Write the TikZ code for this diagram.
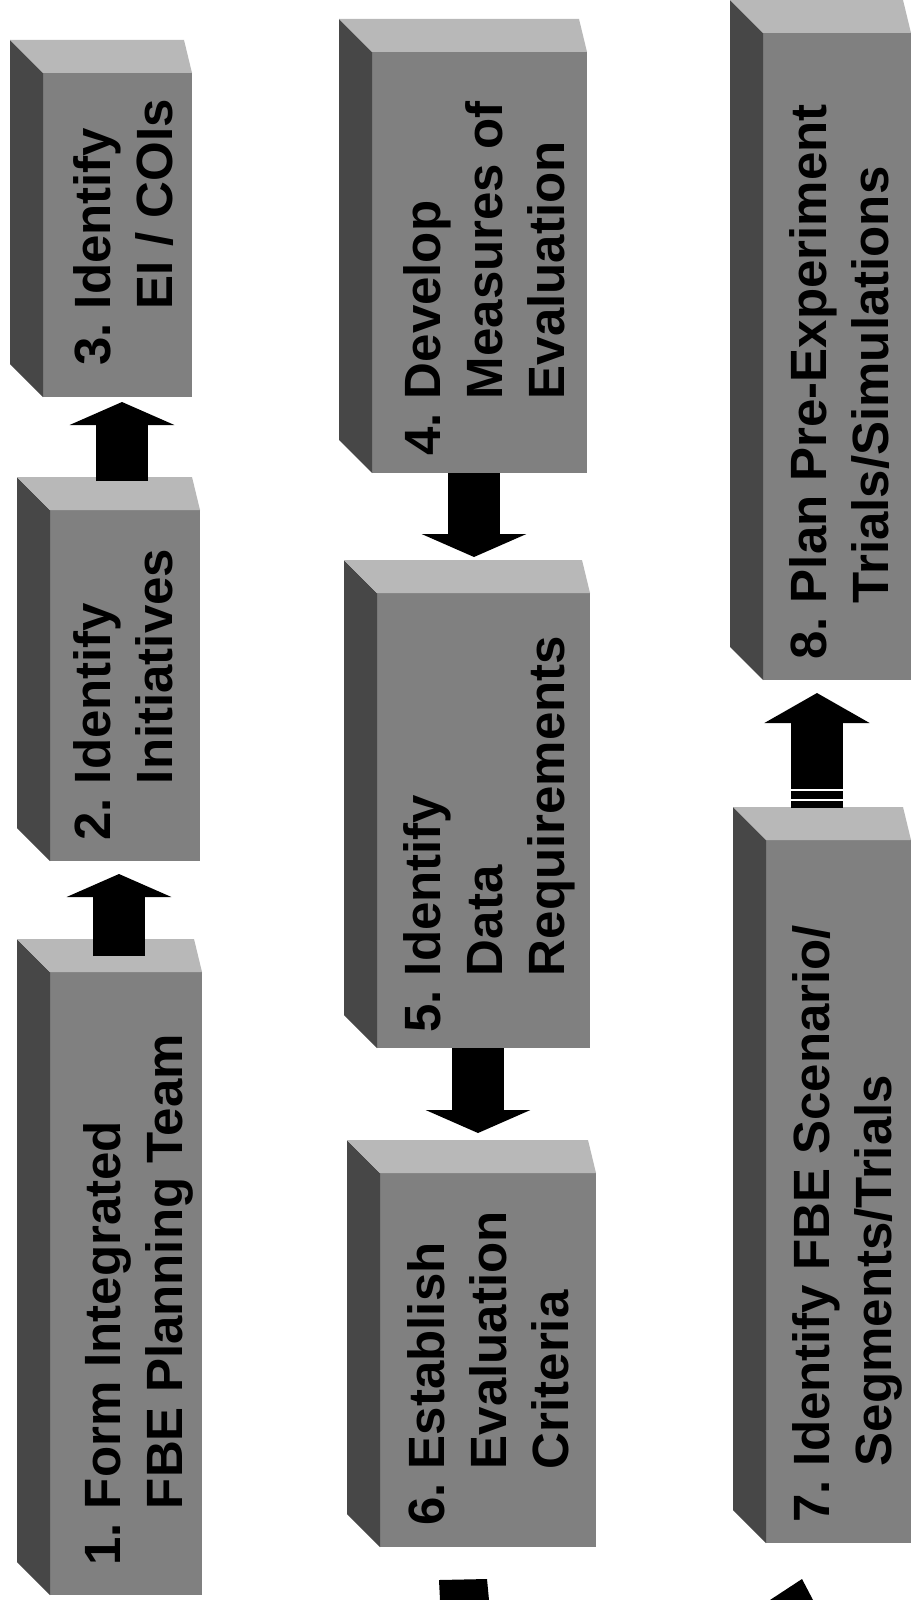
\documentclass[tikz,border=0pt]{standalone}
\usepackage{fontspec}
\setmainfont{Liberation Sans}
\usetikzlibrary{arrows.meta}

\tikzset{
  frontface/.style={fill=black!50, draw=none, inner sep=0pt, outer sep=0pt, anchor=north west},
  leftface/.style={fill=black!72},
  topface/.style={fill=black!28},
  boxtext/.style={rotate=90, anchor=north west, inner sep=0pt, align=left,
    font=\fontsize{51}{62}\selectfont\bfseries},
  blockarrow/.style={line width=52pt, -{Triangle[width=104pt,length=23pt]}},
}

\begin{document}
\begin{tikzpicture}[x=1pt,y=1pt]
\useasboundingbox (0.000000,0.000000) rectangle (916.000000,-1600.000000);
\fill[white] (0.000000,0.000000) rectangle (916.000000,-1600.000000);
% Drawing boxes
% Box 1: Form Integrated FBE Planning Team
\node[frontface, minimum width=152pt, minimum height=623pt] (b1) at (50.000000,-972.000000) {};
\fill[leftface] (b1.north west) -- +(-33,33) -- ([shift={(-33,33)}]b1.south west) -- (b1.south west) -- cycle;
\fill[topface] (b1.north west) -- +(-33,33) -- ([shift={(-8,33)}]b1.north east) -- (b1.north east) -- cycle;
\node[boxtext] (t1) at (83.000000,-1566.000000) {1.~Form Integrated\\\hphantom{1.~}FBE Planning Team};
% Box 2: Identify Initiatives
\node[frontface, minimum width=150pt, minimum height=351pt] (b2) at (50.000000,-510.000000) {};
\fill[leftface] (b2.north west) -- +(-33,33) -- ([shift={(-33,33)}]b2.south west) -- (b2.south west) -- cycle;
\fill[topface] (b2.north west) -- +(-33,33) -- ([shift={(-8,33)}]b2.north east) -- (b2.north east) -- cycle;
\node[boxtext] (t2) at (73.000000,-841.000000) {2.~Identify\\\hphantom{2.~}Initiatives};
% Box 3: Identify EI / COIs
\node[frontface, minimum width=149pt, minimum height=324pt] (b3) at (43.000000,-73.000000) {};
\fill[leftface] (b3.north west) -- +(-33,33) -- ([shift={(-33,33)}]b3.south west) -- (b3.south west) -- cycle;
\fill[topface] (b3.north west) -- +(-33,33) -- ([shift={(-8,33)}]b3.north east) -- (b3.north east) -- cycle;
\node[boxtext] (t3) at (73.000000,-366.000000) {3.~Identify\\\hphantom{3.~}EI / COIs};
% Box 4: Develop Measures of Evaluation
\node[frontface, minimum width=215pt, minimum height=421pt] (b4) at (372.000000,-52.000000) {};
\fill[leftface] (b4.north west) -- +(-33,33) -- ([shift={(-33,33)}]b4.south west) -- (b4.south west) -- cycle;
\fill[topface] (b4.north west) -- +(-33,33) -- ([shift={(-8,33)}]b4.north east) -- (b4.north east) -- cycle;
\node[boxtext] (t4) at (403.000000,-456.000000) {4.~Develop\\\hphantom{4.~}Measures of\\\hphantom{4.~}Evaluation};
% Box 5: Identify Data Requirements
\node[frontface, minimum width=213pt, minimum height=455pt] (b5) at (377.000000,-593.000000) {};
\fill[leftface] (b5.north west) -- +(-33,33) -- ([shift={(-33,33)}]b5.south west) -- (b5.south west) -- cycle;
\fill[topface] (b5.north west) -- +(-33,33) -- ([shift={(-8,33)}]b5.north east) -- (b5.north east) -- cycle;
\node[boxtext] (t5) at (403.000000,-1033.000000) {5.~Identify\\\hphantom{5.~}Data\\\hphantom{5.~}Requirements};
% Box 6: Establish Evaluation Criteria
\node[frontface, minimum width=216pt, minimum height=374pt] (b6) at (380.000000,-1173.000000) {};
\fill[leftface] (b6.north west) -- +(-33,33) -- ([shift={(-33,33)}]b6.south west) -- (b6.south west) -- cycle;
\fill[topface] (b6.north west) -- +(-33,33) -- ([shift={(-8,33)}]b6.north east) -- (b6.north east) -- cycle;
\node[boxtext] (t6) at (407.000000,-1526.000000) {6.~Establish\\\hphantom{6.~}Evaluation\\\hphantom{6.~}Criteria};
% Box 7: Identify FBE Scenario/Segments/Trials
\node[frontface, minimum width=145pt, minimum height=703pt] (b7) at (766.000000,-840.000000) {};
\fill[leftface] (b7.north west) -- +(-33,33) -- ([shift={(-33,33)}]b7.south west) -- (b7.south west) -- cycle;
\fill[topface] (b7.north west) -- +(-33,33) -- ([shift={(-8,33)}]b7.north east) -- (b7.north east) -- cycle;
\node[boxtext] (t7) at (792.000000,-1523.000000) {7.~Identify FBE Scenario/\\\hphantom{7.~}Segments/Trials};
% Box 8: Plan Pre-Experiment Trials/Simulations
\node[frontface, minimum width=148pt, minimum height=647pt] (b8) at (763.000000,-33.000000) {};
\fill[leftface] (b8.north west) -- +(-33,33) -- ([shift={(-33,33)}]b8.south west) -- (b8.south west) -- cycle;
\fill[topface] (b8.north west) -- +(-33,33) -- ([shift={(-8,33)}]b8.north east) -- (b8.north east) -- cycle;
\node[boxtext] (t8) at (789.000000,-660.000000) {8.~Plan Pre-Experiment\\\hphantom{8.~}Trials/Simulations};
% Done with boxes; drawing arrows
\draw[blockarrow] ([shift={(-7,16)}]b1.north) -- ([shift={(-6,-13)}]b2.south);
\draw[blockarrow] ([shift={(-3,29)}]b2.north) -- ([shift={(4.5,-5)}]b3.south);
\draw[blockarrow] ([shift={(-5.5,0)}]b4.south) -- ([shift={(-9.5,36)}]b5.north);
\draw[blockarrow] ([shift={(-5.5,0)}]b5.south) -- ([shift={(-10,40)}]b6.north);
\draw[blockarrow, -{Triangle[width=104pt,length=30pt]}] ([shift={(-21.5,32)}]b7.north) -- ([shift={(-20,-13)}]b8.south);
\draw[white, line width=2pt] (790.000000,-790.000000) -- (844.000000,-790.000000);
\draw[white, line width=2pt] (790.000000,-800.000000) -- (844.000000,-800.000000);
% Arrow ends cut by the page edge
\fill (439.000000,-1580.000000) -- (487.000000,-1579.000000) -- (489.000000,-1600.000000) -- (440.000000,-1600.000000) -- cycle;
\fill (802.000000,-1579.000000) -- (813.000000,-1600.000000) -- (770.000000,-1600.000000) -- cycle;
% Done with arrows
\end{tikzpicture}
\end{document}
